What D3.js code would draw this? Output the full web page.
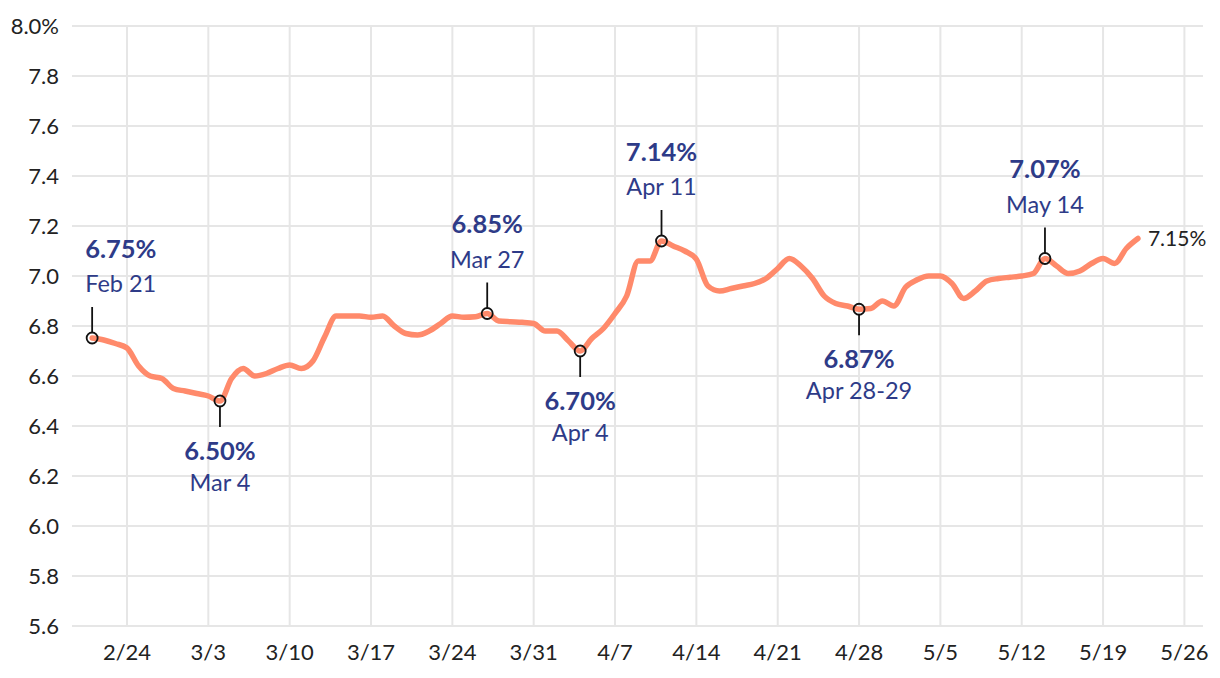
<!DOCTYPE html>
<html><head><meta charset="utf-8">
<script src="https://cdn.jsdelivr.net/npm/d3@7"></script>
<style>
html,body{margin:0;padding:0;background:#fff;}
svg text{font-family:Lato,"Source Sans Pro","Noto Sans",sans-serif;}
</style></head>
<body><svg id="c" width="1220" height="678"></svg>
<script>
// ---- data ----
const startDate = "2025-02-21";
const rates = [
 6.752,6.744,6.73,6.712,6.64,6.60,6.59,6.55,6.54,6.53,6.52,6.50,
 6.59,6.63,6.60,6.61,6.63,6.644,6.63,6.66,6.756,6.84,6.84,6.84,6.835,6.84,
 6.80,6.77,6.764,6.78,6.81,6.84,6.835,6.837,6.85,6.82,6.817,6.815,6.81,
 6.78,6.78,6.74,6.70,6.75,6.79,6.85,6.92,7.06,7.06,7.14,7.12,7.10,7.067,
 6.96,6.94,6.95,6.96,6.97,6.99,7.03,7.07,7.04,6.99,6.92,6.89,6.88,6.867,
 6.87,6.90,6.88,6.955,6.985,7.00,7.00,6.97,6.91,6.94,6.98,6.99,6.995,7.00,
 7.01,7.07,7.04,7.01,7.02,7.05,7.07,7.05,7.11,7.15
];
const yTicks = [5.6,5.8,6.0,6.2,6.4,6.6,6.8,7.0,7.2,7.4,7.6,7.8,8.0];
const xTickDates = ["2025-02-24","2025-03-03","2025-03-10","2025-03-17","2025-03-24","2025-03-31","2025-04-07","2025-04-14","2025-04-21","2025-04-28","2025-05-05","2025-05-12","2025-05-19","2025-05-26"];
const annDates  = ["2025-02-21","2025-03-04","2025-03-27","2025-04-04","2025-04-11","2025-04-28","2025-05-14"];
const annValues = ["6.75%","6.50%","6.85%","6.70%","7.14%","6.87%","7.07%"];
const annLabels = ["Feb 21","Mar 4","Mar 27","Apr 4","Apr 11","Apr 28-29","May 14"];
const annSide   = ["up","down","up","down","up","down","up"];
const lastLabel = "7.15%";

// ---- build ----
const parse = d3.utcParse("%Y-%m-%d");
const t0 = parse(startDate);
const data = rates.map((v,i)=>({date:d3.utcDay.offset(t0,i), v}));
const svg = d3.select("#c");
const L=72, R=1203, T=26, B=626;
const x = d3.scaleUtc().domain([parse("2025-02-24"),parse("2025-05-26")]).range([127,1184.4]);
const y = d3.scaleLinear().domain([5.6,8.0]).range([B,T]);
const fmtX = d3.utcFormat("%-m/%-d");

const g = svg.append("g");
g.selectAll(".hg").data(yTicks).join("line")
 .attr("x1",L).attr("x2",R).attr("y1",d=>y(d)).attr("y2",d=>y(d))
 .attr("stroke","#e6e6e6").attr("stroke-width",2);
const xt = xTickDates.map(parse);
g.selectAll(".vg").data(xt).join("line")
 .attr("x1",d=>x(d)).attr("x2",d=>x(d)).attr("y1",T).attr("y2",B)
 .attr("stroke","#e6e6e6").attr("stroke-width",2);
g.selectAll(".yl").data(yTicks).join("text")
 .attr("x",59).attr("y",d=>y(d)).attr("dy","0.35em").attr("text-anchor","end")
 .attr("font-size",22).attr("fill","#222")
 .text(d=>d===8.0?"8.0%":d.toFixed(1));
g.selectAll(".xl").data(xt).join("text")
 .attr("x",d=>x(d)).attr("y",652).attr("dy","0.35em").attr("text-anchor","middle")
 .attr("font-size",22).attr("fill","#222").text(fmtX);

const line = d3.line().x(d=>x(d.date)).y(d=>y(d.v)).curve(d3.curveMonotoneX);
svg.append("path").datum(data).attr("d",line).attr("fill","none")
 .attr("stroke","#ff8a6b").attr("stroke-width",5.5).attr("stroke-linecap","round").attr("stroke-linejoin","round");

const navy="#2e3b88";
annDates.forEach((ds,i)=>{
  const d = parse(ds);
  const pt = data.find(p=>+p.date===+d);
  const cx = x(d), cy = y(pt.v);
  const up = annSide[i]==="up";
  const stickEnd = up ? cy-31 : cy+26;
  svg.append("line").attr("x1",cx).attr("x2",cx)
    .attr("y1", up? cy-5: cy+5).attr("y2",stickEnd)
    .attr("stroke","#111").attr("stroke-width",1.8);
  svg.append("circle").attr("cx",cx).attr("cy",cy).attr("r",5.5)
    .attr("fill","none").attr("stroke","#111").attr("stroke-width",1.8);
  const anchor = i===0 ? "start" : "middle";
  const tx = i===0 ? cx-7 : cx;
  const pctY = up ? cy-89 : cy+50;
  const dateY = up ? cy-54 : cy+82;
  svg.append("text").attr("x",tx).attr("y",pctY).attr("dy","0.35em")
    .attr("text-anchor",anchor).attr("font-size",25.5).attr("font-weight",700)
    .attr("fill",navy).text(annValues[i]);
  svg.append("text").attr("x",tx).attr("y",dateY).attr("dy","0.35em")
    .attr("text-anchor",anchor).attr("font-size",23.5).attr("fill",navy)
    .text(annLabels[i]);
});
const last = data[data.length-1];
svg.append("text").attr("x",x(last.date)+10).attr("y",y(last.v)).attr("dy","0.35em")
 .attr("font-size",21).attr("fill","#222").text(lastLabel);
</script></body></html>
